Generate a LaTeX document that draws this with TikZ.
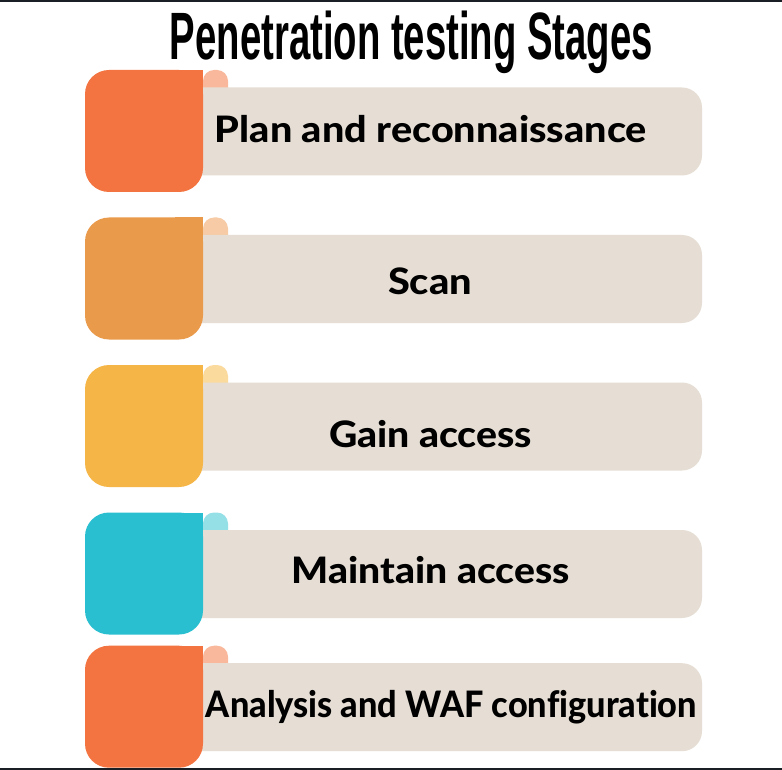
\documentclass[tikz,border=0pt]{standalone}
\usepackage{fontspec}
\usepackage{graphicx}
\IfFontExistsTF{Lato Heavy}
  {\newfontfamily\labelfont{Lato}[BoldFont={Lato Heavy}, Ligatures={NoCommon}]}
  {\newfontfamily\labelfont{Lato}[Ligatures={NoCommon}]}
\newfontfamily\titlefont{Liberation Sans}
\definecolor{beigec}{HTML}{E6DED4}
\definecolor{orangec}{HTML}{F37440}
\definecolor{orangetab}{HTML}{F9B89B}
\definecolor{amberc}{HTML}{EA9A4B}
\definecolor{ambertab}{HTML}{F6CBA5}
\definecolor{yellowc}{HTML}{F6B647}
\definecolor{yellowtab}{HTML}{FBDA9E}
\definecolor{tealc}{HTML}{2ABFD0}
\definecolor{tealtab}{HTML}{95DFE7}
\definecolor{linec}{HTML}{1A1F25}
\tikzset{
  lbl/.style={inner sep=0pt, anchor=base, text=black,
    font=\labelfont\bfseries\fontsize{36.4}{40}\selectfont},
  ttl/.style={inner sep=0pt, anchor=base, text=black,
    font=\titlefont\bfseries\fontsize{67}{70}\selectfont},
}
\begin{document}
\begin{tikzpicture}[x=1pt,y=-1pt]
\useasboundingbox (0,0) rectangle (782,770);
\fill[white] (0,0) rectangle (782,770);
% border lines
\fill[linec] (0,0) rectangle (782,1.6);
\fill[linec] (0,768) rectangle (782,770);
% stages
\foreach \t/\c/\tc in {70/orangec/orangetab, 217.5/amberc/ambertab, 365/yellowc/yellowtab, 512.5/tealc/tealtab, 645.7/orangec/orangetab}{
  % tab
  \fill[\tc, rounded corners=11pt] (203,\t) rectangle (228,\t+40);
  % beige band
  \fill[beigec, rounded corners=20pt] (150,\t+17.5) rectangle (702,\t+105.5);
  % coloured square
  \fill[\c, rounded corners=24pt] (85,\t) rectangle (203,\t+122);
  \fill[\c] (175,\t) rectangle (203,\t+30);
}
% title
\node[ttl] (title) at (411.5,60) {\resizebox{483pt}{\height}{Penetration testing Stages}};
% labels
\node[lbl] (l1) at (431,143) {\resizebox{432pt}{\height}{Plan and reconnaissance}};
\node[lbl] (l2) at (430,294.3) {\resizebox{84pt}{\height}{Scan}};
\node[lbl] (l3) at (430.5,447.5) {\resizebox{203pt}{\height}{Gain access}};
\node[lbl] (l4) at (431,583.3) {\resizebox{278pt}{\height}{Maintain access}};
\node[lbl] (l5) at (451.5,717) {\resizebox{491pt}{\height}{Analysis and WAF configuration}};
\end{tikzpicture}
\end{document}
